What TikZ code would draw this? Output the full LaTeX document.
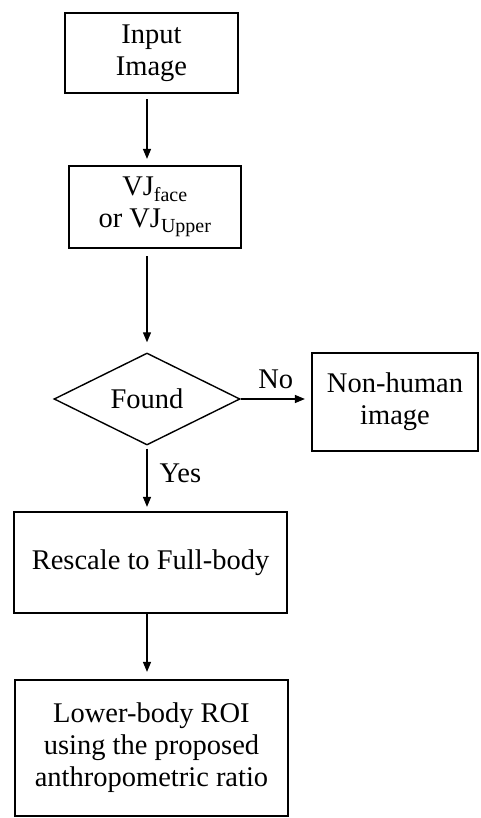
\documentclass[tikz,border=0pt]{standalone}
\usepackage{fontspec}
\setmainfont{Liberation Serif}
\usepackage{tikz}
\usetikzlibrary{arrows.meta, positioning, shapes.geometric}
\tikzset{
  procbox/.style={rectangle,draw=black,line width=2.2pt,align=center,inner sep=2pt},
  decnode/.style={diamond,draw=black,line width=1.4pt,inner sep=0pt,aspect=2,
    minimum width=186pt,minimum height=92pt},
  flowedge/.style={-{Triangle[length=10pt,width=8pt]},line width=1.3pt,black},
  edgelbl/.style={inner sep=3pt},
}

\begin{document}
\begin{tikzpicture}[x=1pt,y=1pt,every node/.style={font=\fontsize{28.5}{32}\selectfont}]
  \useasboundingbox (0,0) rectangle (480,-818);
  \node[procbox,minimum width=173pt,minimum height=80pt] (nInp) at (151.5,-53) {Input\\Image};
  \node[procbox,minimum width=172pt,minimum height=82pt] (nVJ) at (155,-207) {VJ\textsubscript{face}\\or VJ\textsubscript{Upper}};
  \node[decnode] (nFnd) at (147,-399) {Found};
  \node[procbox,minimum width=166pt,minimum height=98pt] (nNon) at (395,-402) {Non-human\\image};
  \node[procbox,minimum width=273pt,minimum height=101pt] (nResc) at (150.5,-562.5) {Rescale to Full-body};
  \node[procbox,minimum width=273pt,minimum height=136pt] (nLow) at (151.5,-748) {Lower-body ROI\\using the proposed\\anthropometric ratio};
  \draw[flowedge,shorten <=5pt,shorten >=6pt] (nInp.south -| nFnd.north) -- (nVJ.north -| nFnd.north);
  \draw[flowedge,shorten <=7pt,shorten >=10pt] (nVJ.south -| nFnd.north) -- (nFnd.north);
  \draw[flowedge,shorten >=6pt] (nFnd.east) -- node[edgelbl,above=7pt] {No} (nFnd.east -| nNon.west);
  \draw[flowedge,shorten <=3pt,shorten >=4pt] (nFnd.south) -- node[edgelbl,pos=0.42,right=9pt] {Yes} (nFnd.south |- nResc.north);
  \draw[flowedge,shorten >=7pt] (nResc.south -| nFnd.south) -- (nLow.north -| nFnd.south);
\end{tikzpicture}
\end{document}
